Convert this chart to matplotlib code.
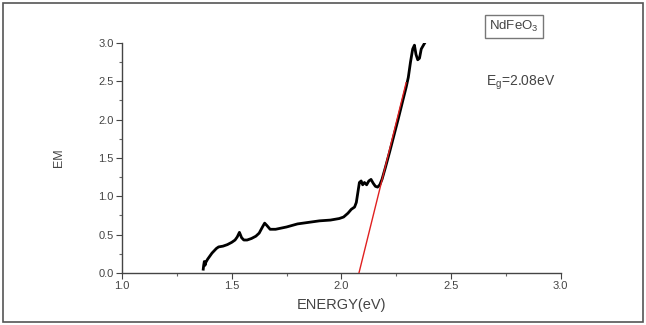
import numpy as np
import matplotlib.pyplot as plt
from matplotlib.patches import Rectangle
from matplotlib.ticker import MultipleLocator

plt.rcParams['font.family'] = ['Liberation Sans', 'DejaVu Sans']
plt.rcParams['mathtext.default'] = 'regular'

energy = [1.370, 1.372, 1.375, 1.378, 1.382, 1.390, 1.400, 1.410, 1.420, 1.430,
          1.440, 1.460, 1.480, 1.500, 1.515, 1.525, 1.535, 1.545, 1.555, 1.570,
          1.590, 1.610, 1.625, 1.640, 1.650, 1.660, 1.675, 1.700, 1.750, 1.800,
          1.850, 1.900, 1.950, 1.990, 2.010, 2.030, 2.045, 2.060, 2.068, 2.075,
          2.082, 2.090, 2.097, 2.105, 2.115, 2.125, 2.135, 2.145, 2.155, 2.165,
          2.175, 2.185, 2.200, 2.220, 2.240, 2.260, 2.280, 2.295, 2.305, 2.315,
          2.325, 2.333, 2.340, 2.348, 2.356, 2.364, 2.372, 2.380]
em = [0.05, 0.10, 0.15, 0.10, 0.14, 0.18, 0.22, 0.26, 0.29, 0.32,
      0.34, 0.35, 0.37, 0.40, 0.43, 0.47, 0.53, 0.46, 0.43, 0.43,
      0.45, 0.48, 0.52, 0.60, 0.65, 0.62, 0.57, 0.57, 0.60, 0.64,
      0.66, 0.68, 0.69, 0.71, 0.73, 0.78, 0.83, 0.86, 0.92, 1.05,
      1.18, 1.20, 1.15, 1.18, 1.15, 1.20, 1.22, 1.17, 1.13, 1.12,
      1.15, 1.22, 1.37, 1.58, 1.80, 2.02, 2.25, 2.42, 2.55, 2.75,
      2.92, 2.97, 2.85, 2.78, 2.80, 2.92, 2.96, 3.00]

# linear fit (Tauc extrapolation)
fit_x = [2.08, 2.295]
fit_y = [0.0, 2.48]

fig = plt.figure(figsize=(6.46, 3.25), dpi=100)
fig.patches.append(Rectangle((0.004, 0.008), 0.991, 0.984, transform=fig.transFigure,
                             fill=False, edgecolor='#555555', linewidth=1.2))
ax = fig.add_axes([0.189, 0.16, 0.679, 0.708])

ax.plot(energy, em, color='black', linewidth=2.0, zorder=3)
ax.plot(fit_x, fit_y, color='#e02020', linewidth=1.0, zorder=4)

ax.set_xlim(1.0, 3.0)
ax.set_ylim(0.0, 3.0)
ax.xaxis.set_major_locator(MultipleLocator(0.5))
ax.xaxis.set_minor_locator(MultipleLocator(0.25))
ax.yaxis.set_major_locator(MultipleLocator(0.5))
ax.yaxis.set_minor_locator(MultipleLocator(0.25))
ax.xaxis.set_major_formatter(plt.FormatStrFormatter('%.1f'))
ax.yaxis.set_major_formatter(plt.FormatStrFormatter('%.1f'))

for s in ['top', 'right']:
    ax.spines[s].set_visible(False)
for s in ['left', 'bottom']:
    ax.spines[s].set_color('#444444')
    ax.spines[s].set_linewidth(1.0)

ax.tick_params(which='major', direction='out', length=4, width=0.8,
               colors='#444444', labelsize=8, pad=2)
ax.tick_params(which='minor', direction='out', length=2, width=0.8, colors='#666666')

ax.set_xlabel('ENERGY(eV)', fontsize=10.5, color='#444444', labelpad=5)
ax.set_ylabel('EM', fontsize=9, color='#444444', labelpad=24)

fig.text(0.796, 0.918, r'NdFeO$_3$', fontsize=9.5, color='#444444', ha='center', va='center',
         bbox=dict(boxstyle='square,pad=0.3', facecolor='white', edgecolor='#777777', linewidth=1.0))
fig.text(0.752, 0.745, r'E$_g$=2.08eV', fontsize=10, color='#444444', ha='left', va='center')

fig.savefig('out.png', dpi=100)
